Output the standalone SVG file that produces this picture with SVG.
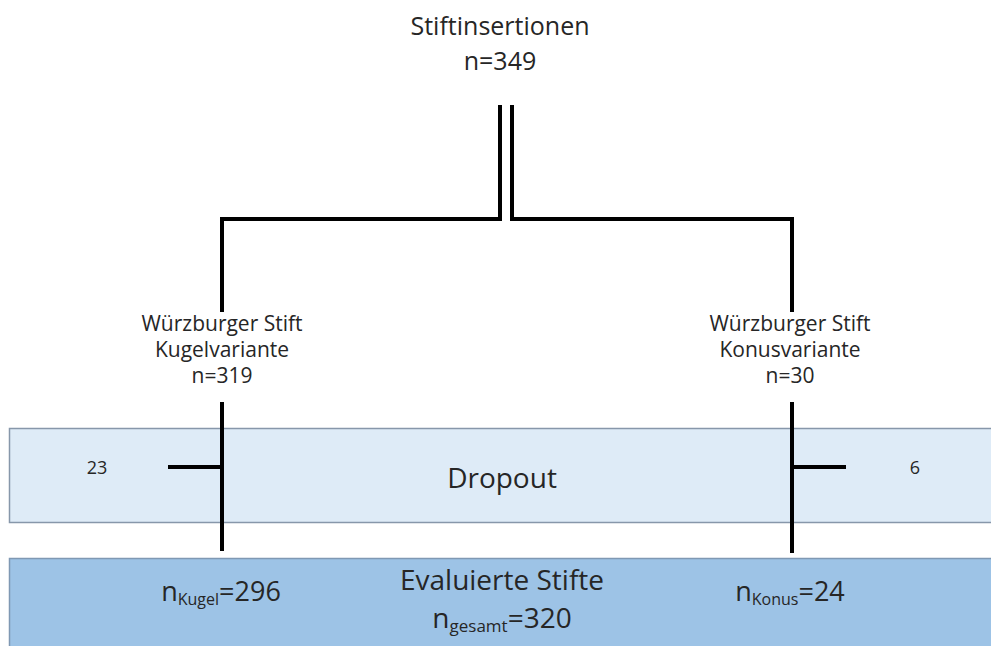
<svg xmlns="http://www.w3.org/2000/svg" width="991" height="646" viewBox="0 0 991 646">
<style>
text{font-family:"Open Sans","Noto Sans","Liberation Sans",sans-serif;fill:#262626;text-anchor:middle}
.t{font-size:25px}
.s{font-size:21px}
.b{font-size:28px}
.k{font-size:27px}
.n{font-size:18px}
.ln{fill:none;stroke:#000;stroke-width:4}
</style>
<rect width="991" height="646" fill="#fff"/>
<g id="dropout">
<rect x="9.5" y="428.5" width="990" height="94" fill="#deebf7" stroke="#8797aa" stroke-width="1.5"/>
<text class="b" x="502" y="488">Dropout</text>
<text class="n" x="97" y="474">23</text>
<text class="n" x="915" y="474">6</text>
</g>
<g id="evaluiert">
<rect x="9.5" y="558.5" width="990" height="100" fill="#9dc3e6" stroke="#7f98b3" stroke-width="1.5"/>
<text class="b" x="502" y="590">Evaluierte Stifte</text>
<text class="b" x="502" y="628">n<tspan font-size="17" dy="4">gesamt</tspan><tspan dy="-4">=320</tspan></text>
<text class="k" x="221" y="601">n<tspan font-size="16" dy="4">Kugel</tspan><tspan dy="-4">=296</tspan></text>
<text class="k" x="790" y="601">n<tspan font-size="16" dy="4">Konus</tspan><tspan dy="-4">=24</tspan></text>
</g>
<g id="root">
<text class="t" x="500" y="35">Stiftinsertionen</text>
<text class="t" x="500" y="70">n=349</text>
</g>
<g id="kugel">
<text class="s" x="222" y="331">Würzburger Stift</text>
<text class="s" x="222" y="357">Kugelvariante</text>
<text class="s" x="222" y="383">n=319</text>
</g>
<g id="konus">
<text class="s" x="790" y="331">Würzburger Stift</text>
<text class="s" x="790" y="357">Konusvariante</text>
<text class="s" x="790" y="383">n=30</text>
</g>
<g id="connectors">
<path class="ln" d="M500,105 V219 H222 V312"/>
<path class="ln" d="M512,105 V219 H792 V312"/>
<path class="ln" d="M222,402 V551 M168,467 H222"/>
<path class="ln" d="M792,402 V553 M792,467 H846"/>
</g>
</svg>
